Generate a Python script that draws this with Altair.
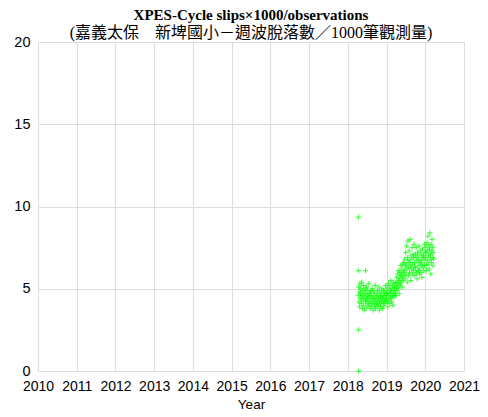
import altair as alt
import pandas as pd

# ---- data ----
start_year = 2018.27
step_days = 3
values = [
    # 2018.27 - 2018.6
    4.6, 5.1, 4.2, 4.8, 3.9, 5.3, 4.4, 4.7, 5.0, 4.1,
    4.5, 5.4, 4.3, 3.8, 4.9, 4.6, 5.2, 4.0, 4.4, 4.8,
    3.7, 4.5, 5.0, 4.2, 4.7, 4.3, 5.1, 3.9, 4.6, 4.4,
    4.9, 4.1, 4.5, 5.3, 4.0, 4.7, 4.2, 3.8, 4.6, 4.8,
    # 2018.6 - 2019.0
    4.3, 4.9, 3.9, 4.5, 4.1, 5.0, 4.4, 3.7, 4.6, 4.2,
    4.8, 4.0, 4.4, 5.2, 3.8, 4.3, 4.7, 4.1, 4.5, 3.9,
    4.9, 4.2, 4.6, 4.0, 4.4, 5.1, 3.7, 4.3, 4.8, 4.1,
    4.5, 3.9, 4.7, 4.2, 5.0, 4.4, 3.8, 4.6, 4.3, 4.9,
    4.0, 4.5, 4.2, 4.8, 4.1, 4.6, 5.2, 4.3, 4.7,
    # 2019.0 - 2019.23
    4.4, 5.0, 4.2, 4.8, 3.9, 4.6, 5.3, 4.3, 4.7, 5.1,
    4.1, 4.5, 4.9, 5.5, 4.4, 4.8, 4.2, 5.0, 4.6, 5.2,
    4.0, 4.7, 5.4, 4.5, 4.9, 5.1, 4.6, 5.3,
    # 2019.23 - 2019.46
    4.8, 5.4, 4.6, 5.1, 5.7, 4.9, 5.3, 5.9, 5.0, 5.5,
    6.1, 5.2, 4.7, 5.6, 6.0, 5.3, 5.8, 6.4, 5.4, 5.9,
    6.2, 5.1, 5.7, 6.5, 5.5, 6.0, 6.6, 5.8,
    # 2019.46 - 2019.72
    6.1, 6.8, 5.6, 6.4, 7.2, 5.9, 6.5, 7.6, 6.2, 5.4,
    6.9, 7.9, 6.3, 5.8, 6.7, 7.3, 6.0, 6.6, 8.0, 6.4,
    5.5, 7.0, 6.2, 6.8, 7.5, 5.9, 6.5, 7.1, 6.1, 6.9,
    7.7, 6.3,
    # 2019.72 - 2020.0
    6.6, 5.8, 7.1, 6.3, 6.9, 7.5, 6.0, 6.7, 5.6, 7.2,
    6.4, 7.0, 6.1, 6.8, 7.6, 6.2, 5.9, 6.6, 7.3, 6.5,
    6.0, 7.1, 6.7, 5.7, 6.4, 7.4, 6.9, 6.3, 7.0, 6.1,
    6.8, 7.7, 6.5, 7.2,
    # 2020.0 - 2020.22
    6.9, 7.5, 6.4, 7.2, 6.1, 7.8, 6.7, 7.3, 8.2, 6.5,
    7.0, 7.6, 6.2, 7.4, 8.4, 6.8, 7.1, 5.9, 7.7, 6.6,
    7.3, 8.0, 6.9, 7.5, 6.4, 7.2, 6.8,
]
outlier_years = [2018.28, 2018.28, 2018.46, 2018.28, 2018.28]
outlier_values = [9.35, 6.1, 6.1, 2.5, 0.0]

year_ticks = list(range(2010, 2022))
value_ticks = [0, 5, 10, 15, 20]

years = [start_year + i * step_days / 365.25 for i in range(len(values))]
df = pd.DataFrame({
    "year": years + outlier_years,
    "value": values + outlier_values,
})

plus = "M-1,0L1,0M0,-1L0,1"

chart = alt.Chart(df).mark_point(
    shape=plus, filled=False, size=26, strokeWidth=1,
    color="#00ff00", opacity=0.8,
).encode(
    x=alt.X("year:Q",
            scale=alt.Scale(domain=[2010, 2021], nice=False, zero=False),
            axis=alt.Axis(values=year_ticks, format="d", title="Year",
                          labelFontSize=14, titleFontSize=13.5,
                          titleFontWeight="normal", labelPadding=8,
                          titlePadding=4, tickSize=0, domain=False,
                          labelFlush=False, labelOverlap=False)),
    y=alt.Y("value:Q",
            scale=alt.Scale(domain=[0, 20], nice=False),
            axis=alt.Axis(values=value_ticks, title=None,
                          labelFontSize=14.5, labelPadding=8,
                          tickSize=0, domain=False)),
).properties(
    width=426,
    height=329,
    padding={"left": 30, "top": 34, "right": 16, "bottom": 40},
    autosize=alt.AutoSizeParams(type="none"),
    title=alt.TitleParams(
        text="XPES-Cycle slips×1000/observations",
        subtitle="(嘉義太保　新埤國小－週波脫落數／1000筆觀測量)",
        font="Liberation Serif",
        fontWeight="bold",
        fontSize=15,
        color="black",
        subtitleFont="Liberation Serif, Noto Sans CJK TC",
        subtitleFontSize=16,
        subtitleColor="black",
        subtitlePadding=2,
        anchor="middle",
        offset=-7,
    ),
).configure_view(
    stroke="#8c8c8c", strokeWidth=1,
).configure_axis(
    gridColor="#e8e8e8", gridWidth=1,
    labelFont="Liberation Sans", titleFont="Liberation Sans",
    labelColor="#262626", titleColor="#262626",
).configure(background="white")

chart.save("out.html", embed_options={"renderer": "svg", "actions": False})
